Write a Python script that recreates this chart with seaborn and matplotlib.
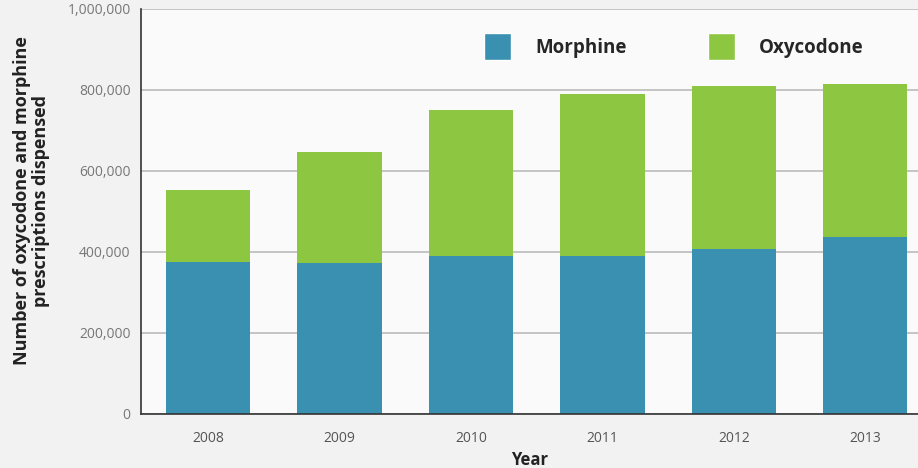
import numpy as np
import pandas as pd
import seaborn as sns
import matplotlib.pyplot as plt
from matplotlib.patches import Patch

# Dados
years = ['2008', '2009', '2010', '2011', '2012', '2013']
morphine = [376000, 374000, 389000, 389000, 408000, 436000]
oxycodone = [176000, 274000, 361000, 401000, 401000, 378000]

blue = '#3a90b0'
green = '#8dc641'

df = pd.DataFrame({'Year': years, 'Morphine': morphine, 'Oxycodone': oxycodone})
df['Total'] = df['Morphine'] + df['Oxycodone']

sns.set_style('white')
plt.rcParams['font.family'] = ['Open Sans', 'DejaVu Sans']

fig = plt.figure(figsize=(9.18, 4.68), dpi=100, facecolor='#f2f2f2')
ax = fig.add_axes([0.1536, 0.1154, 0.8464, 0.8654])
ax.set_facecolor('#fafafa')

# barra total (verde) e morfina (azul) por cima
sns.barplot(data=df, x='Year', y='Total', color=green, width=0.64, saturation=1, linewidth=0, ax=ax)
sns.barplot(data=df, x='Year', y='Morphine', color=blue, width=0.64, saturation=1, linewidth=0, ax=ax)

ax.set_ylim(0, 1000000)
ax.set_xlim(-0.51, 5.40)
ax.set_yticks(np.arange(0, 1000001, 200000))
ax.set_yticklabels([f'{v:,}' for v in range(0, 1000001, 200000)], color='#777777', fontsize=10)
ax.tick_params(axis='x', colors='#555555', labelsize=10, length=0, pad=12)
ax.tick_params(axis='y', length=0, pad=7.5)
ax.yaxis.grid(True, color='#bbbbbb', linewidth=1.2)
ax.set_axisbelow(True)

for s in ['top', 'right']:
    ax.spines[s].set_visible(False)
for s in ['left', 'bottom']:
    ax.spines[s].set_color('#333333')
    ax.spines[s].set_linewidth(1.2)

ax.set_xlabel('Year', fontsize=12, fontweight='bold', color='#222222', labelpad=4)
ax.set_ylabel('Number of oxycodone and morphine\nprescriptions dispensed', fontsize=13,
              fontweight='bold', color='#222222', linespacing=1.1)
ax.yaxis.set_label_coords(-0.117, 0.527)

handles = [Patch(facecolor=blue, label='Morphine'), Patch(facecolor=green, label='Oxycodone')]
ax.legend(handles=handles, ncol=2, frameon=False, loc='upper left', bbox_to_anchor=(0.42, 0.982),
          handlelength=1.45, handleheight=1.85, handletextpad=1.3, columnspacing=4.3,
          prop={'weight': 'bold', 'size': 13.5})

fig.savefig('out.png', dpi=100, facecolor=fig.get_facecolor())
